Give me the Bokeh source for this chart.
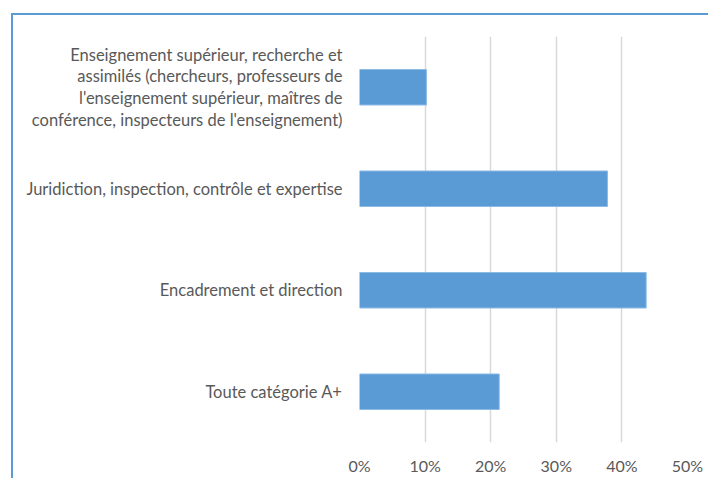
from bokeh.plotting import figure
from bokeh.models import FactorRange, NumeralTickFormatter, FixedTicker
from bokeh.embed import file_html
from bokeh.resources import INLINE

categories = [
    "Enseignement supérieur, recherche et\nassimilés (chercheurs, professeurs de\nl'enseignement supérieur, maîtres de\nconférence, inspecteurs de l'enseignement)",
    "Juridiction, inspection, contrôle et expertise",
    "Encadrement et direction",
    "Toute catégorie A+",
]
values = [0.102, 0.378, 0.437, 0.213]
x_ticks = [0, 0.1, 0.2, 0.3, 0.4, 0.5]

FONT = "Lato"
GREY = "#595959"

p = figure(
    y_range=FactorRange(*reversed(categories), range_padding=0),
    x_range=(0, 0.5),
    width=695, height=463,
    frame_width=328, frame_height=406,
    min_border_left=346, min_border_right=21, min_border_top=21, min_border_bottom=36,
    output_backend="svg", toolbar_location=None,
    styles={"border-left": "2px solid #5B9BD5", "border-top": "2px solid #5B9BD5",
            "margin-left": "11px", "margin-top": "13px"},
)
p.hbar(y=categories, right=values, left=0, height=0.35,
       fill_color="#5B9BD5", line_color="#8CBBE6", line_width=1)

p.outline_line_color = None
p.background_fill_color = "white"
p.border_fill_color = "white"

p.xgrid.ticker = FixedTicker(ticks=x_ticks)
p.xgrid.grid_line_color = "#D9D9D9"
p.xgrid.grid_line_width = 1.5
p.ygrid.grid_line_color = None

p.xaxis.ticker = FixedTicker(ticks=x_ticks)
p.xaxis.formatter = NumeralTickFormatter(format="0%")
p.xaxis.axis_line_color = None
p.xaxis.major_tick_line_color = None
p.xaxis.minor_tick_line_color = None
p.xaxis.major_label_standoff = 7
p.xaxis.major_label_text_font = FONT
p.xaxis.major_label_text_font_size = "16px"
p.xaxis.major_label_text_color = GREY

p.yaxis.axis_line_color = None
p.yaxis.major_tick_line_color = None
p.yaxis.major_label_standoff = 11
p.yaxis.major_label_text_font = FONT
p.yaxis.major_label_text_font_size = "16.5px"
p.yaxis.major_label_text_line_height = 1.08
p.yaxis.major_label_text_color = GREY

open("out.html", "w").write(file_html(p, INLINE))
